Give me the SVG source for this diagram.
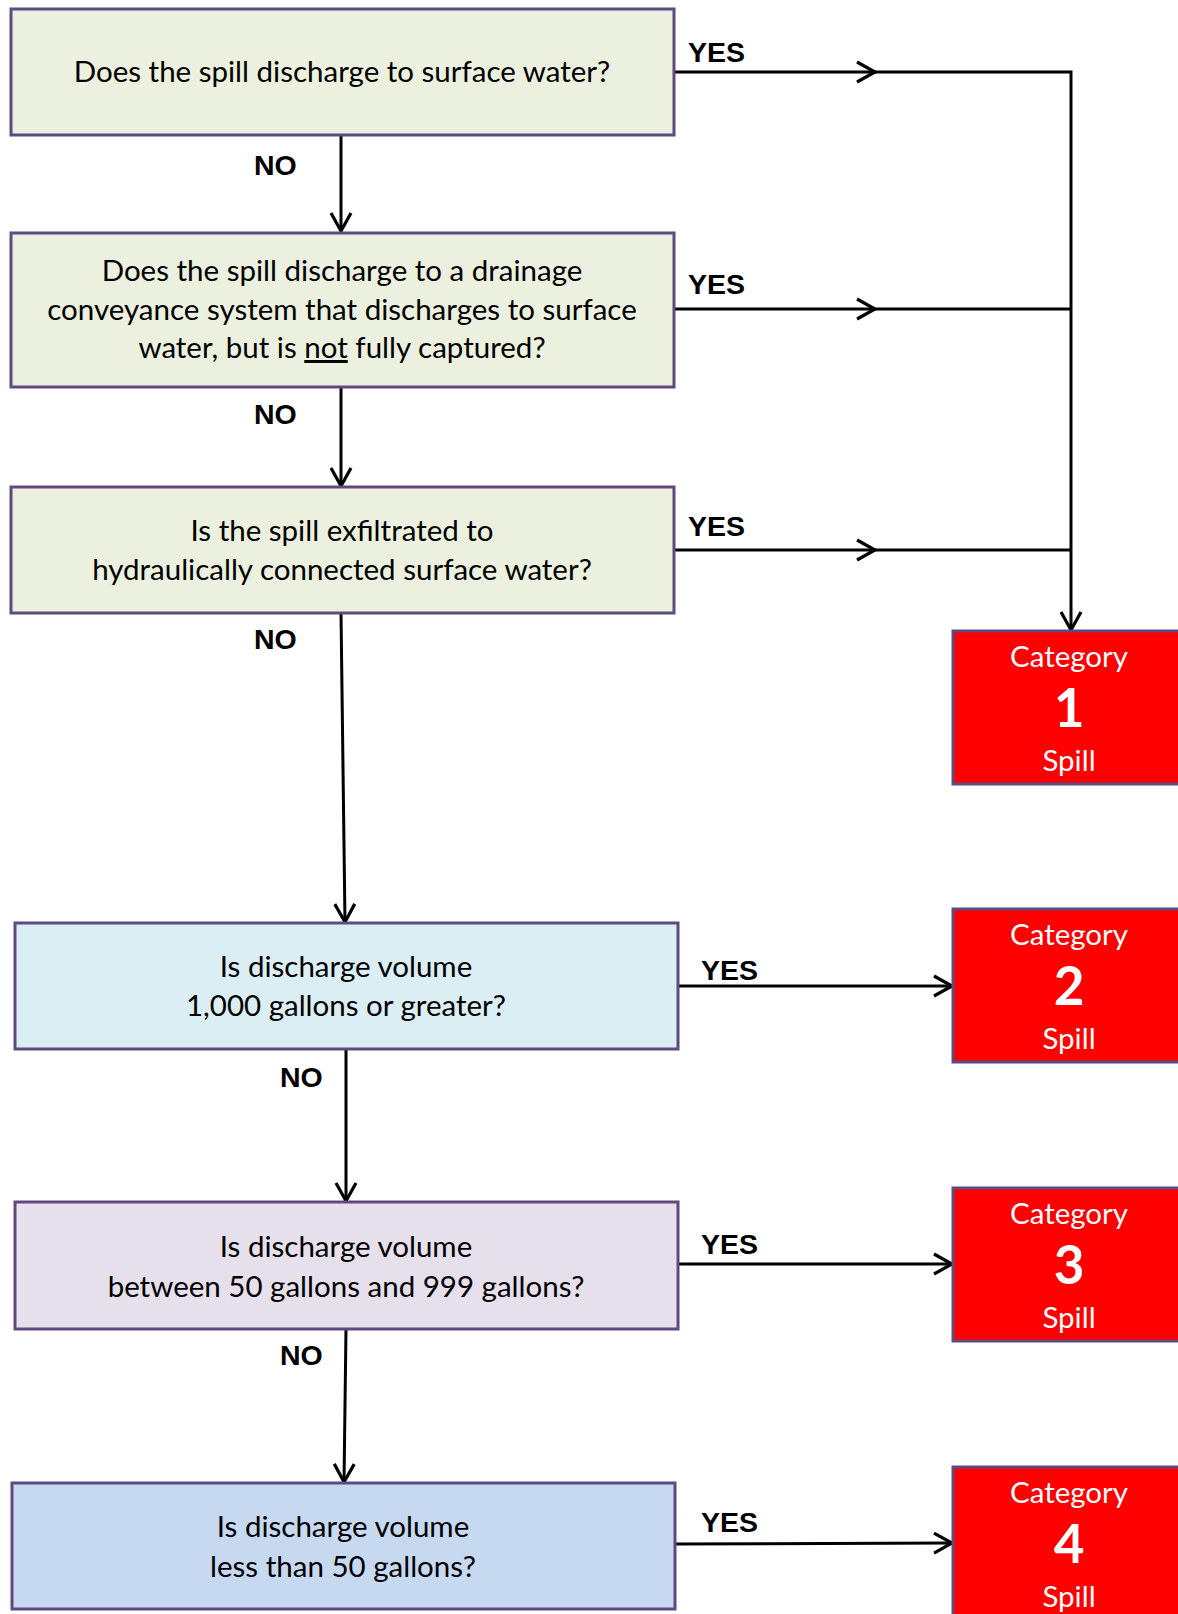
<svg xmlns="http://www.w3.org/2000/svg" width="1178" height="1614" viewBox="0 0 1178 1614">
<style>
.q{stroke:#5f4a80;stroke-width:3}
.g{fill:#ebf1de}
.b1{fill:#dbeef4}
.p{fill:#e6e0ec}
.b2{fill:#c6d9f1}
.r{fill:#ff0000}
.t{font-family:Lato,"Open Sans",sans-serif;font-size:29.5px;fill:#000;text-anchor:middle}
.w{font-family:Lato,"Open Sans",sans-serif;font-size:29.5px;fill:#fff;text-anchor:middle}
.n{font-family:Lato,"Open Sans",sans-serif;font-size:53px;font-weight:bold;fill:#fff;text-anchor:middle}
.l{font-family:"Liberation Sans",Arial,sans-serif;font-size:28.5px;font-weight:bold;fill:#000}
.c{fill:none;stroke:#000;stroke-width:3}
</style>
<defs>
<marker id="a" markerUnits="userSpaceOnUse" markerWidth="24" markerHeight="24" viewBox="-20 -12 24 24" refX="0" refY="0" orient="auto" overflow="visible">
<path d="M-18,-10 L0,0 L-18,10" fill="none" stroke="#000" stroke-width="3.2"/>
</marker>
</defs>
<g id="connectors">
<path class="c" d="M674,72 H875" marker-end="url(#a)"/>
<path class="c" d="M875,72 H1071 V630" marker-end="url(#a)"/>
<path class="c" d="M674,309 H875" marker-end="url(#a)"/>
<path class="c" d="M875,309 H1071"/>
<path class="c" d="M674,550 H875" marker-end="url(#a)"/>
<path class="c" d="M875,550 H1071"/>
<path class="c" d="M341,135 V231" marker-end="url(#a)"/>
<path class="c" d="M341,387 V486" marker-end="url(#a)"/>
<path class="c" d="M341,613 L345,922" marker-end="url(#a)"/>
<path class="c" d="M678,986 H952" marker-end="url(#a)"/>
<path class="c" d="M346,1049 V1201" marker-end="url(#a)"/>
<path class="c" d="M678,1264 H952" marker-end="url(#a)"/>
<path class="c" d="M346,1329 L344,1482" marker-end="url(#a)"/>
<path class="c" d="M675,1544 L952,1543" marker-end="url(#a)"/>
<text class="l" x="688" y="62">YES</text>
<text class="l" x="688" y="294">YES</text>
<text class="l" x="688" y="536">YES</text>
<text class="l" x="701" y="980">YES</text>
<text class="l" x="701" y="1254">YES</text>
<text class="l" x="701" y="1532">YES</text>
<text class="l" x="254" y="175">NO</text>
<text class="l" x="254" y="424">NO</text>
<text class="l" x="254" y="649">NO</text>
<text class="l" x="280" y="1087">NO</text>
<text class="l" x="280" y="1365">NO</text>
</g>
<g id="q1">
<rect class="q g" x="11" y="9" width="663" height="126"/>
<text class="t" x="342" y="82">Does the spill discharge to surface water?</text>
</g>
<g id="q2">
<rect class="q g" x="11" y="233" width="663" height="154"/>
<text class="t" x="342" y="281">Does the spill discharge to a drainage</text>
<text class="t" x="342" y="320">conveyance system that discharges to surface</text>
<text class="t" x="342" y="358">water, but is <tspan text-decoration="underline">not</tspan> fully captured?</text>
</g>
<g id="q3">
<rect class="q g" x="11" y="487" width="663" height="126"/>
<text class="t" x="342" y="541">Is the spill exfiltrated to</text>
<text class="t" x="342" y="580">hydraulically connected surface water?</text>
</g>
<g id="q4">
<rect class="q b1" x="15" y="923" width="663" height="126"/>
<text class="t" x="346" y="977">Is discharge volume</text>
<text class="t" x="346" y="1016">1,000 gallons or greater?</text>
</g>
<g id="q5">
<rect class="q p" x="15" y="1202" width="663" height="127"/>
<text class="t" x="346" y="1257">Is discharge volume</text>
<text class="t" x="346" y="1297">between 50 gallons and 999 gallons?</text>
</g>
<g id="q6">
<rect class="q b2" x="12" y="1483" width="663" height="126"/>
<text class="t" x="343" y="1537">Is discharge volume</text>
<text class="t" x="343" y="1577">less than 50 gallons?</text>
</g>
<g id="cat1">
<rect class="q r" x="953" y="631" width="234" height="153"/>
<text class="w" x="1069" y="667">Category</text>
<text class="n" x="1069" y="727">1</text>
<text class="w" x="1069" y="771">Spill</text>
</g>
<g id="cat2">
<rect class="q r" x="953" y="909" width="234" height="153"/>
<text class="w" x="1069" y="945">Category</text>
<text class="n" x="1069" y="1005">2</text>
<text class="w" x="1069" y="1049">Spill</text>
</g>
<g id="cat3">
<rect class="q r" x="953" y="1188" width="234" height="153"/>
<text class="w" x="1069" y="1224">Category</text>
<text class="n" x="1069" y="1284">3</text>
<text class="w" x="1069" y="1328">Spill</text>
</g>
<g id="cat4">
<rect class="q r" x="953" y="1467" width="234" height="153"/>
<text class="w" x="1069" y="1503">Category</text>
<text class="n" x="1069" y="1563">4</text>
<text class="w" x="1069" y="1607">Spill</text>
</g>
</svg>
